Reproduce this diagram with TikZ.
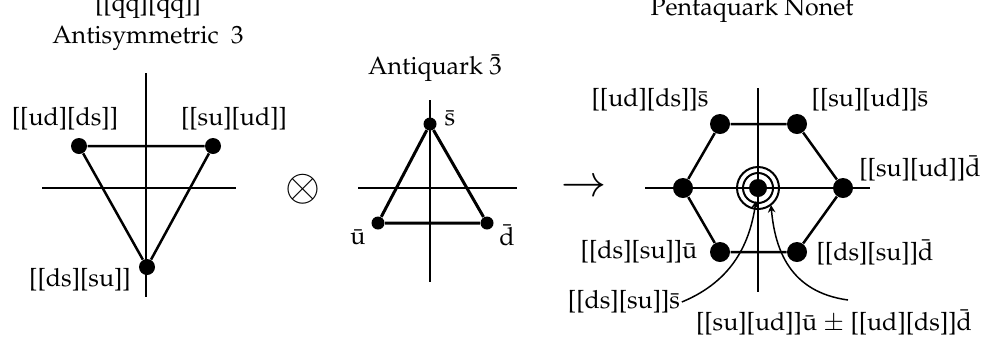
\documentclass[tikz,border=0pt]{standalone}
\usepackage[T1]{fontenc}
\usepackage{mathpazo}
\usetikzlibrary{arrows.meta}
\begin{document}
\begin{tikzpicture}[x=0.4pt,y=-0.4pt]

\tikzset{dot/.style={circle, fill=black, inner sep=0pt, minimum size=#1}}
\tikzset{lab/.style={inner sep=0.5pt}}
\tikzset{axis/.style={line width=0.8pt}}
\tikzset{edge/.style={line width=1pt}}
\tikzset{pointer/.style={line width=0.6pt, -{Stealth[length=3pt,width=3pt]}}}

\useasboundingbox (0,0) rectangle (984,343);

% antisymmetric diquark-diquark triplet
\node[lab] (qqtitle) at (148,6) {[[qq][qq]]};
\node[lab] (antisym) at (148,38) {Antisymmetric\ \ 3};
\draw[axis] (146,73) -- (146,297);
\draw[axis] (42,188) -- (236,188);
\node[dot=6.4pt] (udds) at (79,146) {};
\node[dot=6.4pt] (suud) at (213,146) {};
\node[dot=6.4pt] (dssu) at (147,267) {};
\draw[edge] (udds) -- (suud) -- (dssu) -- (udds);
\node[lab] (uddslab) at (65,119) {[[ud][ds]]};
\node[lab] (suudlab) at (234,119) {[[su][ud]]};
\node[lab] (dssulab) at (80,280) {[[ds][su]]};

\node[lab] (times) at (303,189) {\LARGE$\otimes$};

% antiquark triplet
\node[lab] (antiq) at (435,68) {Antiquark \=3};
\draw[axis] (430,100) -- (430,282);
\draw[axis] (358,188) -- (517,188);
\node[dot=5.2pt] (sbar) at (430,124) {};
\node[dot=5.2pt] (ubar) at (378,223) {};
\node[dot=5.2pt] (dbar) at (487,223) {};
\draw[line width=1.2pt] (sbar) -- (dbar) -- (ubar) -- (sbar);
\node[lab] (sbarlab) at (450,118) {\=s};
\node[lab] (ubarlab) at (358,237) {\=u};
\node[lab] (dbarlab) at (507,235) {\=d};

\node[lab] (to) at (584,188) {\LARGE$\rightarrow$};

% pentaquark nonet
\node[lab] (nonet) at (752,10) {Pentaquark Nonet};
\draw[axis] (758,88) -- (758,292);
\draw[axis] (645,188) -- (870,188);
\node[dot=8pt] (h1) at (720,124) {};
\node[dot=8pt] (h2) at (797,124) {};
\node[dot=8pt] (h3) at (843,188) {};
\node[dot=8pt] (h4) at (797,252) {};
\node[dot=8pt] (h5) at (720,252) {};
\node[dot=8pt] (h6) at (683,188) {};
\draw[edge] (h1) -- (h2) -- (h3) -- (h4) -- (h5) -- (h6) -- (h1);
\node[dot=7.2pt] (ctr) at (758,188) {};
\draw[line width=0.8pt] (ctr) circle (6pt);
\draw[line width=0.8pt] (ctr) circle (8.4pt);

\node[lab] (h1lab) at (650,100) {[[ud][ds]]\=s};
\node[lab] (h2lab) at (870,100) {[[su][ud]]\=s};
\node[lab] (h3lab) at (920,168) {[[su][ud]]\=d};
\node[lab] (h4lab) at (875,252) {[[ds][su]]\=d};
\node[lab] (h5lab) at (639,252) {[[ds][su]]\=u};
\node[lab] (sslab) at (624,302) {[[ds][su]]\=s};
\node[lab] (mixlab) at (834,322) {[[su][ud]]\=u $\pm$ [[ud][ds]]\=d};

\coordinate (ringL) at (756,201);
\coordinate (ringR) at (771,205);
\coordinate (mixtail) at (848,300);
\draw[pointer] (sslab.east) .. controls (735,280) and (750,240) .. (ringL);
\draw[pointer] (mixtail) .. controls (790,292) and (775,250) .. (ringR);

\end{tikzpicture}
\end{document}
